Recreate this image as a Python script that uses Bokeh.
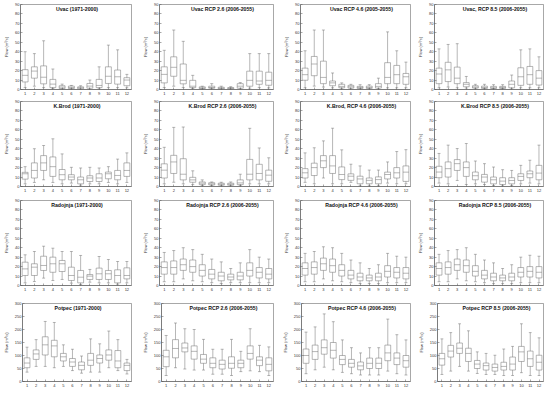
from bokeh.plotting import figure
from bokeh.layouts import column, row
from bokeh.models import Label, FixedTicker, Range1d, ColumnDataSource
from bokeh.embed import file_html
from bokeh.resources import INLINE

months = list(range(1, 13))
yticks_small = list(range(0, 100, 10))
yticks_large = list(range(0, 350, 50))

# ---- Uvac (1971-2000)
uvac_hist_hi = [40, 38, 51.6, 21.7, 5.7, 4.3, 4, 10, 24, 47, 42, 16]
uvac_hist_q3 = [21, 24, 25, 10.7, 4, 3.6, 2.8, 6.4, 10.7, 24, 20.6, 12.5]
uvac_hist_med = [15, 19.5, 13, 5.7, 2.5, 2, 1.8, 3.6, 4.3, 14, 13.5, 10]
uvac_hist_q1 = [8, 12, 6, 2, 1, 1, 0.7, 1.4, 2, 6.4, 5.7, 4]
uvac_hist_lo = [2, 3.5, 2, 1, 0.5, 0.4, 0.3, 0.4, 0.7, 2, 2, 1.8]
# ---- Uvac RCP 2.6
uvac_26_hi = [41.5, 63, 51, 15, 3.5, 6.2, 3.5, 3, 7.3, 38, 38, 38]
uvac_26_q3 = [24, 34.6, 27, 9.7, 2.8, 3.5, 2.4, 2, 6.2, 19.4, 19.4, 18.3]
uvac_26_med = [16, 23.5, 9.7, 3.5, 1.7, 2, 1.4, 1.4, 3.5, 9.7, 9, 9.7]
uvac_26_q1 = [7, 14, 6, 2, 1, 1.4, 0.7, 0.7, 1.4, 3.5, 5.5, 4.5]
uvac_26_lo = [2, 3.5, 2, 1, 0.3, 0.7, 0.3, 0.3, 0.7, 1.4, 2, 1.7]
# ---- Uvac RCP 4.6
uvac_46_hi = [41, 63, 63, 17.5, 7, 5.5, 5.1, 5.1, 12, 61, 41, 29]
uvac_46_q3 = [22.6, 35, 30, 9, 5.5, 4.4, 3.3, 3.6, 6.2, 28.4, 25.5, 17]
uvac_46_med = [15.7, 27, 12.8, 7, 3.3, 2.9, 2.2, 2.2, 3.3, 12.8, 15.7, 13.5]
uvac_46_q1 = [9.8, 14.6, 6.2, 4, 1.8, 1.5, 1.1, 1.1, 1.5, 6.2, 6.2, 5.5]
uvac_46_lo = [1.8, 3.6, 2.6, 1.8, 0.7, 0.7, 0.7, 0.7, 0.7, 1.8, 1.8, 1.8]
# ---- Uvac RCP 8.5
uvac_85_hi = [43, 47.7, 48.5, 13.8, 5.5, 5.5, 5.1, 5.1, 15.3, 42, 43, 34.6]
uvac_85_q3 = [22.6, 28.8, 23.7, 7.3, 4, 3.6, 3.3, 3.3, 9, 23, 24.4, 20]
uvac_85_med = [16.4, 20.8, 12, 5.5, 2.6, 2.2, 1.8, 2.2, 5.5, 13.5, 15.7, 12]
uvac_85_q1 = [6.2, 8.4, 6.2, 2.9, 1.5, 1.1, 1.1, 1.1, 1.8, 4.4, 5.5, 4.7]
uvac_85_lo = [1.8, 2.6, 1.8, 1.5, 0.7, 0.7, 0.7, 0.7, 0.7, 1.8, 1.8, 1.8]

# ---- K.Brod (1971-2000)
kbrod_hist_hi = [21, 40, 43.4, 50.5, 34.5, 20.3, 19.6, 20.3, 19.6, 21, 29, 35.6]
kbrod_hist_q3 = [15, 25, 32.7, 31.3, 18, 12.5, 10, 11.4, 13.5, 15.3, 17, 25]
kbrod_hist_med = [13.5, 17, 25, 21, 12.5, 10, 7.1, 9, 9, 13.5, 11.7, 17]
kbrod_hist_q1 = [7.8, 9, 17, 10.7, 7.1, 7.1, 2.8, 5.3, 5.3, 8.2, 7.1, 10.7]
kbrod_hist_lo = [2.8, 4.3, 7.1, 4.3, 2.8, 3.6, 1.4, 2.8, 2.8, 4.3, 2.8, 4.3]
# ---- K.Brod RCP 2.6
kbrod_26_hi = [41.5, 62.6, 63, 16.6, 7, 4.8, 4.5, 4.8, 13, 61.6, 40.8, 30.4]
kbrod_26_q3 = [24, 33, 29.4, 9.7, 4.8, 4, 3.5, 3.5, 7, 28.7, 23.5, 17.3]
kbrod_26_med = [17.3, 26, 13, 7, 3.5, 2.8, 2.4, 2.4, 3.8, 13, 13.8, 12]
kbrod_26_q1 = [9, 13.8, 7, 4.5, 2, 1.7, 1.4, 1.4, 2, 7, 7, 5.5]
kbrod_26_lo = [2.8, 4.5, 2.8, 2, 1, 1, 0.7, 0.7, 1, 2.8, 2.8, 2.8]
# ---- K.Brod RCP 4.6
kbrod_46_hi = [35.6, 41, 48.3, 61.7, 38.8, 23.6, 21.8, 17.4, 17.4, 26, 37, 39]
kbrod_46_q3 = [18.9, 24.7, 32.7, 32.7, 20.7, 13.4, 10.9, 9, 10.2, 15.2, 20, 21.8]
kbrod_46_med = [14.5, 20, 27.2, 21.8, 12.7, 10.9, 8, 6.5, 7.3, 12.7, 14.5, 15.2]
kbrod_46_q1 = [9, 11.6, 20, 13.8, 7.3, 6.5, 2.9, 2.9, 2.9, 8, 9, 5.4]
kbrod_46_lo = [4.4, 2.9, 9, 2.9, 2.9, 4.4, 0.7, 0.7, 0.7, 3.6, 2.9, 2.9]
# ---- K.Brod RCP 8.5
kbrod_85_hi = [35, 43.8, 40.2, 45.5, 27, 24.2, 20.6, 17.8, 17, 22.4, 27.8, 43.8]
kbrod_85_q3 = [21.4, 26, 28.5, 26, 15.3, 12.8, 10, 9.3, 9.3, 13.5, 16.4, 22.4]
kbrod_85_med = [15.3, 18.9, 24.2, 20, 11.4, 10, 7.1, 5.7, 6.4, 10.7, 13.5, 14.2]
kbrod_85_q1 = [9.3, 10, 17, 10.7, 7.1, 4.6, 2.8, 2.1, 2.8, 6.4, 9.3, 7.1]
kbrod_85_lo = [3.6, 2.8, 6.4, 2.1, 2.8, 2.1, 1, 0.7, 1, 2.8, 3.6, 2.8]

# ---- Radojnja (1971-2000)
rad_hist_hi = [32.5, 36, 41.6, 39.5, 36, 36, 31.8, 17, 30.7, 27.5, 25.4, 25.4]
rad_hist_q3 = [24.7, 23, 31, 30, 26.5, 19.4, 15.9, 11.6, 18.4, 15.9, 16.6, 18.7]
rad_hist_med = [17.6, 19.4, 21.2, 23, 23, 10.6, 8.8, 9.9, 12.4, 12.4, 10.6, 10.6]
rad_hist_q1 = [10.6, 10.6, 15.9, 14, 14.8, 5.3, 2.8, 6.4, 6.4, 6.4, 2.8, 7]
rad_hist_lo = [2.8, 4.2, 7.8, 5.3, 6.4, 2.5, 1, 3.5, 2.8, 2.8, 1.4, 2.8]
# ---- Radojnja RCP 2.6
rad_26_hi = [35, 37, 40, 38, 33, 28, 25, 18, 24, 38, 30, 28]
rad_26_q3 = [25, 26, 28, 27, 22, 17, 14, 12, 14, 24, 19, 18]
rad_26_med = [19, 19, 22, 20, 16, 12, 10, 9, 10, 16, 14, 12]
rad_26_q1 = [12, 12, 16, 14, 10, 7, 5, 6, 6, 10, 8, 7]
rad_26_lo = [4, 4, 7, 5, 4, 3, 2, 3, 3, 3, 3, 3]
# ---- Radojnja RCP 4.6
rad_46_hi = [34, 36, 41, 40, 34, 27, 24, 18, 22, 34, 31, 30]
rad_46_q3 = [24, 25, 29, 28, 22, 16, 13, 11, 13, 21, 19, 19]
rad_46_med = [18, 19, 23, 21, 16, 11, 9, 8, 9, 15, 14, 13]
rad_46_q1 = [11, 12, 16, 14, 10, 7, 5, 5, 5, 9, 8, 7]
rad_46_lo = [4, 4, 7, 5, 4, 3, 2, 2, 2, 3, 3, 3]
# ---- Radojnja RCP 8.5
rad_85_hi = [33, 37, 38, 40, 33, 27, 24, 18, 22, 30, 32, 31]
rad_85_q3 = [24, 25, 28, 27, 21, 16, 13, 11, 13, 19, 20, 20]
rad_85_med = [18, 19, 22, 21, 15, 11, 9, 8, 9, 14, 15, 14]
rad_85_q1 = [11, 12, 16, 14, 10, 7, 5, 5, 5, 9, 9, 8]
rad_85_lo = [4, 4, 7, 5, 4, 3, 2, 2, 2, 3, 3, 3]

# ---- Potpec (1971-2000)
pot_hist_hi = [132, 161, 231, 227, 141, 124, 98, 164, 145, 194, 161, 85]
pot_hist_q3 = [91, 121.5, 172, 158.5, 108, 88.5, 75, 108, 102, 121.5, 119, 71]
pot_hist_med = [71, 106, 141, 137, 95, 75, 62, 82, 88.5, 102, 79, 62]
pot_hist_q1 = [53, 85, 102, 95, 79, 58, 45, 62, 71, 82, 53, 42]
pot_hist_lo = [36, 58, 58, 53, 58, 42, 32, 36, 36, 53, 42, 29]
# ---- Potpec RCP 2.6
pot_26_hi = [177, 225, 203, 200, 162, 124, 124, 162, 116, 203, 139, 133]
pot_26_q3 = [120, 161, 148, 137, 104, 91, 82, 95, 82, 137, 95, 91]
pot_26_med = [95, 127, 129, 116, 86, 70, 66, 70, 70, 108, 82, 66]
pot_26_q1 = [57, 91, 114, 86, 70, 53, 48, 51, 53, 86, 61, 41]
pot_26_lo = [23, 53, 48, 44, 44, 28, 28, 23, 38, 41, 38, 23]
# ---- Potpec RCP 4.6
pot_46_hi = [190, 210, 260, 230, 160, 130, 110, 130, 130, 240, 180, 160]
pot_46_q3 = [125, 140, 160, 150, 100, 85, 75, 90, 90, 140, 110, 100]
pot_46_med = [100, 115, 130, 120, 85, 70, 60, 70, 70, 110, 90, 80]
pot_46_q1 = [70, 85, 105, 90, 65, 55, 45, 50, 50, 80, 65, 55]
pot_46_lo = [30, 45, 55, 45, 35, 30, 25, 25, 25, 40, 30, 25]
# ---- Potpec RCP 8.5
pot_85_hi = [164, 188, 222, 195, 114, 108, 101, 125, 135, 222, 188, 168]
pot_85_q3 = [108, 139, 148, 128, 81, 71, 67, 74, 94, 135, 117, 101]
pot_85_med = [87.5, 117, 128, 108, 67, 61, 54, 58, 67, 114, 87.5, 74]
pot_85_q1 = [63, 94, 108, 77, 50, 44, 40, 44, 44, 77, 58, 44]
pot_85_lo = [27, 40, 58, 40, 31, 27, 27, 23, 23, 34, 23, 23]

titles = [
    ["Uvac (1971-2000)", "Uvac RCP 2.6 (2006-2055)", "Uvac RCP 4.6 (2005-2055)", "Uvac, RCP 8.5 (2006-2055)"],
    ["K.Brod (1971-2000)", "K.Brod RCP 2.6 (2006-2055)", "K.Brod, RCP 4.6 (2006-2055)", "K.Brod RCP 8.5 (2006-2055)"],
    ["Radojnja (1971-2000)", "Radojnja RCP 2.6 (2006-2055)", "Radojnja RCP 4.6 (2006-2055)", "Radojnja RCP 8.5 (2006-2055)"],
    ["Potpec (1971-2000)", "Potpec RCP 2.6 (2006-2055)", "Potpec RCP 4.6 (2006-2055)", "Potpec RCP 8.5 (2006-2055)"],
]

panel_data = [
    [(uvac_hist_lo, uvac_hist_q1, uvac_hist_med, uvac_hist_q3, uvac_hist_hi),
     (uvac_26_lo, uvac_26_q1, uvac_26_med, uvac_26_q3, uvac_26_hi),
     (uvac_46_lo, uvac_46_q1, uvac_46_med, uvac_46_q3, uvac_46_hi),
     (uvac_85_lo, uvac_85_q1, uvac_85_med, uvac_85_q3, uvac_85_hi)],
    [(kbrod_hist_lo, kbrod_hist_q1, kbrod_hist_med, kbrod_hist_q3, kbrod_hist_hi),
     (kbrod_26_lo, kbrod_26_q1, kbrod_26_med, kbrod_26_q3, kbrod_26_hi),
     (kbrod_46_lo, kbrod_46_q1, kbrod_46_med, kbrod_46_q3, kbrod_46_hi),
     (kbrod_85_lo, kbrod_85_q1, kbrod_85_med, kbrod_85_q3, kbrod_85_hi)],
    [(rad_hist_lo, rad_hist_q1, rad_hist_med, rad_hist_q3, rad_hist_hi),
     (rad_26_lo, rad_26_q1, rad_26_med, rad_26_q3, rad_26_hi),
     (rad_46_lo, rad_46_q1, rad_46_med, rad_46_q3, rad_46_hi),
     (rad_85_lo, rad_85_q1, rad_85_med, rad_85_q3, rad_85_hi)],
    [(pot_hist_lo, pot_hist_q1, pot_hist_med, pot_hist_q3, pot_hist_hi),
     (pot_26_lo, pot_26_q1, pot_26_med, pot_26_q3, pot_26_hi),
     (pot_46_lo, pot_46_q1, pot_46_med, pot_46_q3, pot_46_hi),
     (pot_85_lo, pot_85_q1, pot_85_med, pot_85_q3, pot_85_hi)],
]
row_ymax = [90, 90, 90, 300]
row_ticks = [yticks_small, yticks_small, yticks_small, yticks_large]

FONT = "Liberation Sans"
LC = "#6e6e6e"
AXC = "#505050"
col_w = [139, 140, 136, 133]
col_bl = [20, 20, 21, 19]
col_br = [8, 6, 5, 5]
row_h = [97, 97, 99, 97]
row_bt = [4, 4, 6, 10]
row_bb = [8, 8, 8, 9]
title_dx = [1, 6, 6, 6]

BOX_HALF = 0.32
CAP_HALF = 0.16


def make_panel(ri, ci):
    lo, q1, med, q3, hi = panel_data[ri][ci]
    ymax = row_ymax[ri]
    p = figure(width=col_w[ci], height=row_h[ri], output_backend="svg",
               toolbar_location=None, x_range=Range1d(0.5, 12.5),
               y_range=Range1d(0, ymax),
               min_border_left=col_bl[ci], min_border_right=col_br[ci],
               min_border_top=row_bt[ri], min_border_bottom=row_bb[ri])
    src = ColumnDataSource(dict(
        x=months, lo=lo, q1=q1, med=med, q3=q3, hi=hi,
        bl=[m - BOX_HALF for m in months], br=[m + BOX_HALF for m in months],
        cl=[m - CAP_HALF for m in months], cr=[m + CAP_HALF for m in months],
    ))
    p.segment(x0="x", y0="q3", x1="x", y1="hi", source=src, line_color=LC, line_width=0.5)
    p.segment(x0="x", y0="lo", x1="x", y1="q1", source=src, line_color=LC, line_width=0.5)
    p.segment(x0="cl", y0="hi", x1="cr", y1="hi", source=src, line_color=LC, line_width=0.5)
    p.segment(x0="cl", y0="lo", x1="cr", y1="lo", source=src, line_color=LC, line_width=0.5)
    p.quad(left="bl", right="br", bottom="q1", top="q3", source=src,
           fill_color=None, line_color=LC, line_width=0.5)
    p.segment(x0="bl", y0="med", x1="br", y1="med", source=src, line_color=LC, line_width=0.5)

    p.xaxis.ticker = FixedTicker(ticks=months)
    p.yaxis.ticker = FixedTicker(ticks=row_ticks[ri])
    for ax in (p.xaxis[0], p.yaxis[0]):
        ax.major_label_text_font = FONT
        ax.major_label_text_font_size = "4px"
        ax.major_label_text_color = "#333333"
        ax.major_tick_in = 2
        ax.major_tick_out = 0
        ax.major_tick_line_width = 0.5
        ax.major_tick_line_color = AXC
        ax.minor_tick_line_color = None
        ax.axis_line_color = AXC
        ax.axis_line_width = 0.5
    p.xaxis.major_label_standoff = 2
    p.yaxis.major_label_standoff = 1
    p.yaxis.axis_label = "Flow (m\u00b3/s)"
    p.yaxis.axis_label_text_font = FONT
    p.yaxis.axis_label_text_font_size = "4px"
    p.yaxis.axis_label_text_font_style = "normal"
    p.yaxis.axis_label_text_color = "#333333"
    p.yaxis.axis_label_standoff = 3
    p.grid.visible = False
    p.outline_line_color = AXC
    p.outline_line_width = 0.5
    p.outline_line_alpha = 1
    p.background_fill_color = "white"
    p.border_fill_color = "white"
    p.add_layout(Label(x=6.5, y=ymax, y_offset=-1.5, x_offset=title_dx[ci],
                       text=titles[ri][ci], text_align="center", text_baseline="top",
                       text_font=FONT, text_font_style="bold", text_font_size="5.2px",
                       text_color="#111111"))
    return p


rows = [row(*[make_panel(ri, ci) for ci in range(4)]) for ri in range(4)]
layout = column(*rows)

open("out.html", "w").write(file_html(layout, INLINE))
